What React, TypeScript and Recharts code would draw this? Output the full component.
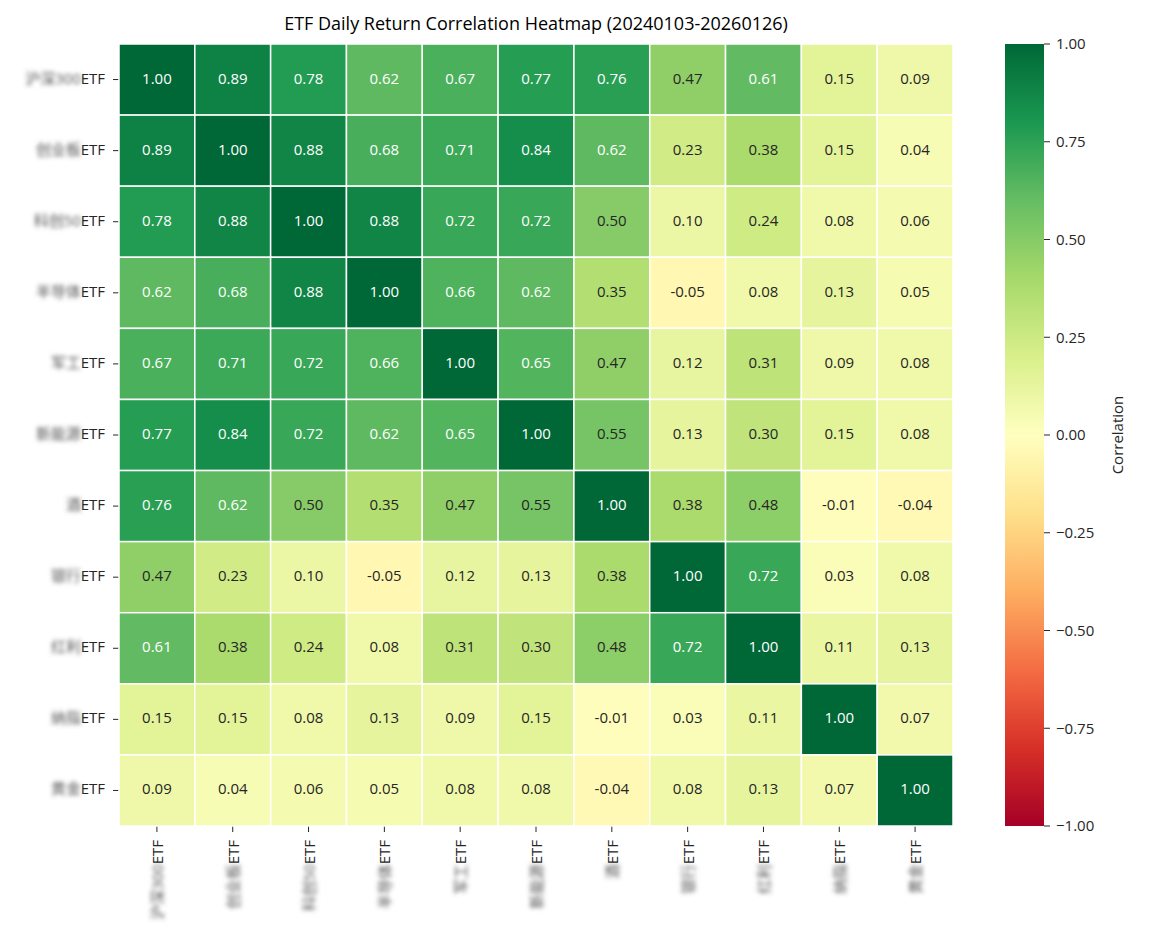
import React from "react";
import {
  ScatterChart,
  Scatter,
  XAxis,
  YAxis,
  ReferenceArea,
} from "recharts";

// ETF names (Chinese part is blurred in the reference, "ETF" suffix is plain)
const ETF_NAMES = [
  "沪深300",
  "创业板",
  "科创50",
  "半导体",
  "军工",
  "新能源",
  "酒",
  "银行",
  "红利",
  "纳指",
  "黄金",
];

// correlation matrix, one row per ETF
const ROW_HS300 = [1.0, 0.89, 0.78, 0.62, 0.67, 0.77, 0.76, 0.47, 0.61, 0.15, 0.09];
const ROW_CYB = [0.89, 1.0, 0.88, 0.68, 0.71, 0.84, 0.62, 0.23, 0.38, 0.15, 0.04];
const ROW_KC50 = [0.78, 0.88, 1.0, 0.88, 0.72, 0.72, 0.5, 0.1, 0.24, 0.08, 0.06];
const ROW_BDT = [0.62, 0.68, 0.88, 1.0, 0.66, 0.62, 0.35, -0.05, 0.08, 0.13, 0.05];
const ROW_JG = [0.67, 0.71, 0.72, 0.66, 1.0, 0.65, 0.47, 0.12, 0.31, 0.09, 0.08];
const ROW_XNY = [0.77, 0.84, 0.72, 0.62, 0.65, 1.0, 0.55, 0.13, 0.3, 0.15, 0.08];
const ROW_JIU = [0.76, 0.62, 0.5, 0.35, 0.47, 0.55, 1.0, 0.38, 0.48, -0.01, -0.04];
const ROW_YH = [0.47, 0.23, 0.1, -0.05, 0.12, 0.13, 0.38, 1.0, 0.72, 0.03, 0.08];
const ROW_HL = [0.61, 0.38, 0.24, 0.08, 0.31, 0.3, 0.48, 0.72, 1.0, 0.11, 0.13];
const ROW_NZ = [0.15, 0.15, 0.08, 0.13, 0.09, 0.15, -0.01, 0.03, 0.11, 1.0, 0.07];
const ROW_HJ = [0.09, 0.04, 0.06, 0.05, 0.08, 0.08, -0.04, 0.08, 0.13, 0.07, 1.0];

const CORR_ROWS = [
  ROW_HS300, ROW_CYB, ROW_KC50, ROW_BDT, ROW_JG, ROW_XNY,
  ROW_JIU, ROW_YH, ROW_HL, ROW_NZ, ROW_HJ,
];

const CB_TICKS = [1, 0.75, 0.5, 0.25, 0, -0.25, -0.5, -0.75, -1];

// matplotlib RdYlGn anchors, -1 -> 1
const RDYLGN = [
  "#a50026", "#d73027", "#f46d43", "#fdae61", "#fee08b", "#ffffbf",
  "#d9ef8b", "#a6d96a", "#66bd63", "#1a9850", "#006837",
];

const FONT = "'Open Sans', 'Noto Sans CJK SC', sans-serif";
const DARK = "#262626";

const W = 1175;
const H = 941;
const PLOT_L = 119;
const PLOT_R = 953;
const PLOT_T = 44;
const PLOT_B = 826;
const N = ETF_NAMES.length;
const CELL_W = (PLOT_R - PLOT_L) / N;
const CELL_H = (PLOT_B - PLOT_T) / N;

const hexToRgb = (h: string) => [
  parseInt(h.slice(1, 3), 16),
  parseInt(h.slice(3, 5), 16),
  parseInt(h.slice(5, 7), 16),
];

const cmap = (v: number) => {
  const t = Math.max(0, Math.min(1, (v + 1) / 2)) * (RDYLGN.length - 1);
  const i = Math.min(Math.floor(t), RDYLGN.length - 2);
  const f = t - i;
  const a = hexToRgb(RDYLGN[i]);
  const b = hexToRgb(RDYLGN[i + 1]);
  return a.map((x, k) => Math.round(x + (b[k] - x) * f));
};

const rgbStr = (c: number[]) => `rgb(${c[0]},${c[1]},${c[2]})`;

// seaborn-style annotation colour choice
const luminance = (c: number[]) => {
  const lin = c.map((x) => {
    const s = x / 255;
    return s <= 0.03928 ? s / 12.92 : Math.pow((s + 0.055) / 1.055, 2.4);
  });
  return 0.2126 * lin[0] + 0.7152 * lin[1] + 0.0722 * lin[2];
};

const cells = CORR_ROWS.flatMap((row, r) =>
  row.map((v, c) => ({ x: c + 0.5, y: r + 0.5, v }))
);

const TICK_POS = ETF_NAMES.map((_, i) => i + 0.5);

// invisible points so the colorbar axis has something to lay out
const cbPoints = CB_TICKS.map((v) => ({ x: 0.5, y: v }));

const fmtCb = (v: number) =>
  v < 0 ? "\u2212" + Math.abs(v).toFixed(2) : v.toFixed(2);

const CellShape = (props: any) => {
  const { cx, cy, payload } = props;
  const col = cmap(payload.v);
  const txt = luminance(col) > 0.408 ? DARK : "#ffffff";
  return (
    <g>
      <rect
        x={cx - CELL_W / 2}
        y={cy - CELL_H / 2}
        width={CELL_W}
        height={CELL_H}
        fill={rgbStr(col)}
        stroke="#ffffff"
        strokeWidth={1.5}
      />
      <text
        x={cx}
        y={cy - 2}
        textAnchor="middle"
        dominantBaseline="central"
        fontSize={15}
        fontFamily={FONT}
        fill={txt}
      >
        {payload.v.toFixed(2)}
      </text>
    </g>
  );
};

const ETF_W = 24;

const YTick = (props: any) => {
  const { x, y, payload } = props;
  const name = ETF_NAMES[Math.round(payload.value - 0.5)];
  return (
    <g>
      <text
        x={x - ETF_W}
        y={y - 2}
        textAnchor="end"
        dominantBaseline="central"
        fontSize={15}
        fontFamily={FONT}
        fill="#555"
        filter="url(#nameBlur)"
      >
        {name}
      </text>
      <text
        x={x}
        y={y - 2}
        textAnchor="end"
        dominantBaseline="central"
        fontSize={15}
        fontFamily={FONT}
        fill={DARK}
      >
        ETF
      </text>
    </g>
  );
};

const XTick = (props: any) => {
  const { x, y, payload } = props;
  const name = ETF_NAMES[Math.round(payload.value - 0.5)];
  return (
    <g transform={`translate(${x},${y}) rotate(-90)`}>
      <text
        x={-ETF_W}
        y={0}
        textAnchor="end"
        dominantBaseline="central"
        fontSize={15}
        fontFamily={FONT}
        fill="#555"
        filter="url(#nameBlur)"
      >
        {name}
      </text>
      <text
        x={0}
        y={0}
        textAnchor="end"
        dominantBaseline="central"
        fontSize={15}
        fontFamily={FONT}
        fill={DARK}
      >
        ETF
      </text>
    </g>
  );
};

const CbLabel = (props: any) => {
  const vb = props.viewBox || {};
  const lx = vb.x + 73;
  const ly = vb.y + vb.height / 2;
  return (
    <text
      x={lx}
      y={ly}
      transform={`rotate(-90, ${lx}, ${ly})`}
      textAnchor="middle"
      dominantBaseline="central"
      fontSize={15}
      fontFamily={FONT}
      fill={DARK}
    >
      Correlation
    </text>
  );
};

const CB_W = 170;
const CB_AXIS_W = 90;

export default function App() {
  return (
    <div
      style={{
        position: "absolute",
        left: 0,
        top: 0,
        width: W,
        height: H,
        background: "#ffffff",
        fontFamily: FONT,
      }}
    >
      <div
        style={{
          position: "absolute",
          left: PLOT_L,
          width: PLOT_R - PLOT_L,
          top: 10,
          textAlign: "center",
          fontSize: 18,
          lineHeight: "26px",
          color: "#000",
        }}
      >
        ETF Daily Return Correlation Heatmap (20240103-20260126)
      </div>

      <div style={{ position: "absolute", left: 0, top: 0 }}>
        <ScatterChart
          width={W}
          height={H}
          margin={{ top: PLOT_T, right: W - PLOT_R, bottom: 0, left: 0 }}
        >
          <defs>
            <filter id="nameBlur" x="-20%" y="-50%" width="140%" height="200%">
              <feGaussianBlur stdDeviation={2.2} />
            </filter>
          </defs>
          <XAxis
            type="number"
            dataKey="x"
            domain={[0, N]}
            ticks={TICK_POS}
            interval={0}
            height={H - PLOT_B}
            axisLine={false}
            tickLine={{ stroke: DARK }}
            tickSize={6}
            tickMargin={8}
            tick={<XTick />}
          />
          <YAxis
            type="number"
            dataKey="y"
            domain={[0, N]}
            reversed
            ticks={TICK_POS}
            interval={0}
            width={PLOT_L}
            axisLine={false}
            tickLine={{ stroke: DARK }}
            tickSize={6}
            tickMargin={8}
            tick={<YTick />}
          />
          <Scatter
            data={cells}
            shape={<CellShape />}
            isAnimationActive={false}
          />
        </ScatterChart>
      </div>

      <div style={{ position: "absolute", left: 1005, top: 0 }}>
        <ScatterChart
          width={CB_W}
          height={H}
          margin={{
            top: PLOT_T,
            right: CB_W - 39 - CB_AXIS_W,
            bottom: 0,
            left: 0,
          }}
        >
          <defs>
            <linearGradient id="cbGrad" x1="0" y1="0" x2="0" y2="1">
              {RDYLGN.slice()
                .reverse()
                .map((c, i) => (
                  <stop
                    key={i}
                    offset={`${(i / (RDYLGN.length - 1)) * 100}%`}
                    stopColor={c}
                  />
                ))}
            </linearGradient>
          </defs>
          <XAxis
            type="number"
            dataKey="x"
            domain={[0, 1]}
            height={H - PLOT_B}
            axisLine={false}
            tickLine={false}
            tick={false}
          />
          <YAxis
            type="number"
            dataKey="y"
            orientation="right"
            domain={[-1, 1]}
            ticks={CB_TICKS}
            interval={0}
            width={CB_AXIS_W}
            axisLine={false}
            tickLine={{ stroke: DARK }}
            tickSize={6}
            tickMargin={6}
            tick={{ fontSize: 15, fontFamily: FONT, fill: DARK }}
            tickFormatter={fmtCb}
            label={<CbLabel />}
          />
          <ReferenceArea
            x1={0}
            x2={1}
            y1={-1}
            y2={1}
            fill="url(#cbGrad)"
            fillOpacity={1}
            stroke="none"
            ifOverflow="visible"
          />
          <Scatter
            data={cbPoints}
            shape={() => <g />}
            isAnimationActive={false}
          />
        </ScatterChart>
      </div>
    </div>
  );
}
